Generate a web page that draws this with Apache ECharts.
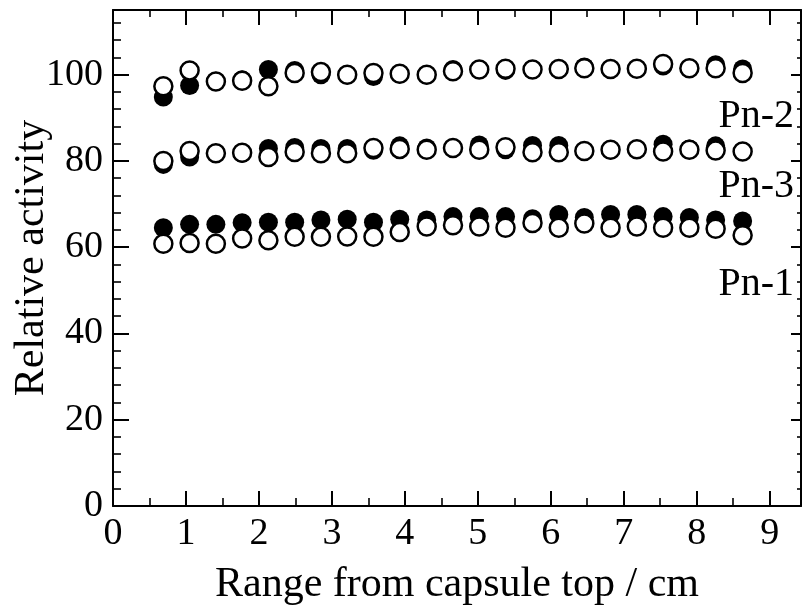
<!DOCTYPE html>
<html>
<head>
<meta charset="utf-8">
<script src="https://cdn.jsdelivr.net/npm/echarts@6/dist/echarts.min.js"></script>
<style>
html,body{margin:0;padding:0;background:#fff;}
#c{width:802px;height:605px;}
</style>
</head>
<body>
<div id="c"></div>
<script>
var xRange = [0.69,1.05,1.41,1.77,2.13,2.49,2.85,3.21,3.57,3.93,4.30,4.66,5.02,5.38,5.75,6.11,6.46,6.82,7.18,7.54,7.90,8.26,8.63];
var pn2Filled = [94.8,97.5,98.5,98.8,101.2,101.0,100.0,100.0,99.6,100.2,100.0,101.2,101.2,101.0,101.2,101.3,101.8,101.3,101.4,102.0,101.5,102.3,101.3];
var pn2Open   = [97.3,101.0,98.4,98.6,97.3,100.4,100.6,100.0,100.4,100.2,100.0,100.8,101.2,101.4,101.2,101.3,101.5,101.3,101.4,102.5,101.5,101.5,100.4];
var pn3Filled = [79.2,80.9,81.8,81.8,82.9,83.1,82.9,82.9,82.5,83.5,83.0,83.0,83.7,82.6,83.6,83.6,82.3,82.6,82.7,83.9,82.8,83.5,82.2];
var pn3Open   = [80.0,82.3,81.8,81.9,80.9,82.1,81.8,81.8,83.0,82.8,82.6,83.0,82.6,83.2,82.0,82.0,82.3,82.6,82.7,82.2,82.6,82.4,82.2];
var pn1Filled = [64.5,65.3,65.3,65.7,65.8,65.8,66.3,66.5,65.8,66.5,66.3,67.1,67.1,67.1,66.6,67.6,66.9,67.6,67.6,67.1,66.9,66.3,66.1];
var pn1Open   = [60.8,61.0,60.8,62.0,61.6,62.4,62.4,62.5,62.4,63.5,64.8,65.1,64.8,64.5,65.6,64.5,65.5,64.5,64.8,64.5,64.5,64.3,62.8];
var seriesLabels = ['Pn-2','Pn-3','Pn-1'];
var xTitle = 'Range from capsule top / cm';
var yTitle = 'Relative activity';

function pairs(ys){ return xRange.map(function(x,i){ return [x, ys[i]]; }); }

var FONT = '"Liberation Serif", "Times New Roman", serif';
var chart = echarts.init(document.getElementById('c'), null, {renderer:'canvas'});

function filled(ys){
  return {type:'scatter', xAxisIndex:0, yAxisIndex:0, data:pairs(ys), symbol:'circle', symbolSize:19,
    itemStyle:{color:'#000', opacity:1}, silent:true, z:2};
}
function open(ys){
  return {type:'scatter', xAxisIndex:0, yAxisIndex:0, data:pairs(ys), symbol:'circle', symbolSize:18,
    itemStyle:{color:'#fff', borderColor:'#000', borderWidth:2.5, opacity:1}, silent:true, z:3};
}

var XMAX = 9.43, YMAX = 115;
var noLine = {show:false, onZero:false};
var axisLineStyle = {show:true, onZero:false, lineStyle:{color:'#000', width:2}};
var G = {left:113, right:1, top:10, bottom:99, containLabel:false, outerBoundsMode:'none'};
function grid(){ return Object.assign({}, G); }

function plainX(gi, pos, interval, len, w, line){
  return {type:'value', gridIndex:gi, position:pos, min:0, max:XMAX, interval:interval,
    axisLine: line ? axisLineStyle : noLine, axisLabel:{show:false}, splitLine:{show:false},
    axisTick:{show:true, inside:true, length:len, lineStyle:{color:'#000', width:w}}};
}
function plainY(gi, pos, interval, len, w, line){
  return {type:'value', gridIndex:gi, position:pos, min:0, max:YMAX, interval:interval,
    axisLine: line ? axisLineStyle : noLine, axisLabel:{show:false}, splitLine:{show:false},
    axisTick:{show:true, inside:true, length:len, lineStyle:{color:'#000', width:w}}};
}

var option = {
  animation:false,
  backgroundColor:'#fff',
  grid:[grid(), grid(), grid(), grid()],
  xAxis:[
    {type:'value', gridIndex:0, position:'bottom', min:0, max:XMAX, interval:1,
     axisLine:axisLineStyle,
     axisTick:{show:true, inside:true, length:15, lineStyle:{color:'#000', width:2}},
     axisLabel:{show:true, margin:9, color:'#000', fontFamily:FONT, fontSize:38,
       formatter:function(v){ return (Math.abs(v-Math.round(v))<1e-6)? String(Math.round(v)) : ''; }},
     splitLine:{show:false},
     name:xTitle, nameLocation:'middle', nameGap:58,
     nameTextStyle:{color:'#000', fontFamily:FONT, fontSize:42}},
    plainX(1, 'bottom', 0.5, 8, 1.6, false),
    plainX(2, 'top', 1, 15, 2, true),
    plainX(3, 'top', 0.5, 7, 1.6, false)
  ],
  yAxis:[
    {type:'value', gridIndex:0, position:'left', min:0, max:YMAX, interval:20,
     axisLine:axisLineStyle,
     axisTick:{show:true, inside:true, length:16, lineStyle:{color:'#000', width:2}},
     axisLabel:{show:true, margin:10, color:'#000', fontFamily:FONT, fontSize:38,
       formatter:function(v){ return (Math.abs(v % 20)<1e-6)? String(v) : ''; }},
     splitLine:{show:false},
     name:yTitle, nameLocation:'middle', nameGap:60, nameRotate:90, nameMoveOverlap:false,
     nameTextStyle:{color:'#000', fontFamily:FONT, fontSize:42}},
    plainY(1, 'left', 4, 8, 1.6, false),
    plainY(2, 'right', 20, 10, 2, true),
    plainY(3, 'right', 4, 4, 1.6, false)
  ],
  graphic:[
    {type:'text', right:8, top:96, style:{text:seriesLabels[0], fill:'#000', font:'40px ' + FONT}},
    {type:'text', right:8, top:166, style:{text:seriesLabels[1], fill:'#000', font:'40px ' + FONT}},
    {type:'text', right:8, top:264, style:{text:seriesLabels[2], fill:'#000', font:'40px ' + FONT}}
  ],
  series:[
    filled(pn2Filled), open(pn2Open),
    filled(pn3Filled), open(pn3Open),
    filled(pn1Filled), open(pn1Open)
  ]
};
chart.setOption(option);
</script>
</body>
</html>
